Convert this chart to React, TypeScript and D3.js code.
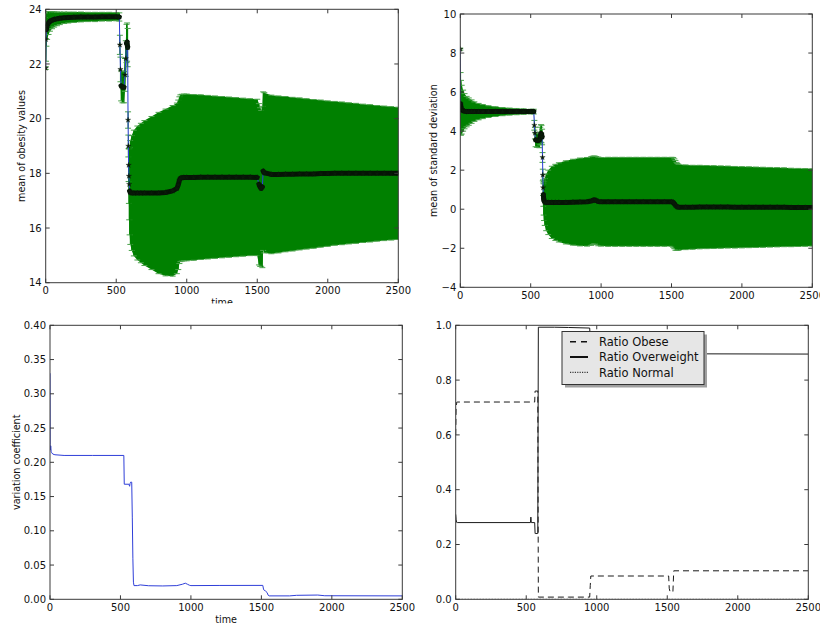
import React from "react";
import * as d3 from "d3";

// ---------- data ----------
const T_TOP = [0, 2, 5, 10, 20, 30, 45, 60, 80, 100, 130, 160, 200, 250, 300, 350, 400, 450, 500, 522, 526, 530, 535, 545, 555, 562, 568, 573, 577, 581, 584, 586, 588, 590, 592, 595, 600, 610, 625, 650, 675, 700, 750, 800, 850, 900, 930, 940, 948, 955, 965, 980, 1000, 1050, 1100, 1150, 1200, 1250, 1300, 1350, 1400, 1450, 1500, 1512, 1520, 1528, 1536, 1542, 1550, 1600, 1650, 1700, 1750, 1800, 1850, 1900, 1950, 2000, 2050, 2100, 2150, 2200, 2250, 2300, 2350, 2400, 2450, 2500];

const OBESITY_MEAN = [21.85, 22.9, 23.25, 23.4, 23.5, 23.56, 23.6, 23.63, 23.65, 23.67, 23.69, 23.7, 23.71, 23.72, 23.72, 23.72, 23.73, 23.73, 23.73, 23.72, 22.7, 21.8, 21.2, 21.15, 21.15, 21.6, 22.2, 22.75, 22.8, 22.6, 19.95, 19.0, 18.3, 17.9, 17.6, 17.35, 17.3, 17.28, 17.28, 17.28, 17.28, 17.28, 17.28, 17.28, 17.3, 17.36, 17.45, 17.58, 17.75, 17.82, 17.84, 17.85, 17.85, 17.85, 17.86, 17.86, 17.86, 17.86, 17.86, 17.86, 17.86, 17.86, 17.85, 17.6, 17.5, 17.45, 17.5, 18.08, 18.02, 17.96, 17.96, 17.97, 17.97, 17.98, 17.98, 17.98, 17.99, 17.99, 18.0, 18.0, 18.0, 18.0, 18.0, 18.0, 18.0, 18.0, 18.0, 18.0];

const OBESITY_ERR = [0.05, 0.8, 0.6, 0.5, 0.42, 0.36, 0.31, 0.28, 0.25, 0.23, 0.21, 0.2, 0.19, 0.18, 0.17, 0.17, 0.16, 0.16, 0.15, 0.15, 0.35, 0.45, 0.55, 0.57, 0.57, 0.6, 0.65, 0.7, 0.7, 0.7, 0.3, 0.4, 0.6, 1.0, 1.3, 1.6, 1.9, 2.1, 2.3, 2.45, 2.55, 2.65, 2.8, 2.95, 3.05, 3.12, 3.12, 3.1, 3.05, 3.05, 3.05, 3.05, 3.05, 3.03, 3.01, 2.99, 2.97, 2.95, 2.93, 2.91, 2.89, 2.87, 2.86, 2.95, 2.9, 2.85, 2.95, 2.9, 2.93, 2.9, 2.87, 2.84, 2.81, 2.78, 2.75, 2.72, 2.69, 2.66, 2.63, 2.61, 2.58, 2.56, 2.53, 2.51, 2.48, 2.46, 2.44, 2.42];

const STD_MEAN = [8.2, 5.4, 5.2, 5.1, 5.05, 5.02, 5.0, 5.0, 5.0, 5.0, 5.0, 5.0, 5.0, 5.0, 5.0, 5.0, 5.0, 5.0, 5.0, 5.0, 4.3, 3.9, 3.55, 3.52, 3.52, 3.55, 3.75, 3.88, 3.85, 3.7, 2.65, 1.75, 1.1, 0.75, 0.5, 0.42, 0.37, 0.35, 0.35, 0.35, 0.35, 0.35, 0.35, 0.36, 0.37, 0.38, 0.42, 0.45, 0.47, 0.47, 0.45, 0.4, 0.38, 0.38, 0.38, 0.38, 0.38, 0.38, 0.38, 0.38, 0.38, 0.38, 0.38, 0.35, 0.28, 0.2, 0.15, 0.12, 0.1, 0.1, 0.1, 0.11, 0.11, 0.11, 0.11, 0.11, 0.1, 0.1, 0.1, 0.1, 0.1, 0.1, 0.1, 0.1, 0.09, 0.09, 0.09, 0.09];

const STD_ERR = [0.05, 1.6, 1.4, 1.25, 1.05, 0.9, 0.78, 0.7, 0.6, 0.5, 0.42, 0.36, 0.3, 0.25, 0.21, 0.18, 0.16, 0.14, 0.12, 0.12, 0.25, 0.3, 0.35, 0.35, 0.35, 0.4, 0.45, 0.45, 0.45, 0.4, 0.25, 0.3, 0.4, 0.6, 0.8, 1.0, 1.2, 1.45, 1.65, 1.85, 1.95, 2.03, 2.13, 2.2, 2.25, 2.27, 2.27, 2.26, 2.25, 2.25, 2.25, 2.27, 2.27, 2.28, 2.28, 2.28, 2.28, 2.28, 2.28, 2.28, 2.28, 2.28, 2.28, 2.3, 2.3, 2.3, 2.25, 2.22, 2.2, 2.17, 2.15, 2.14, 2.13, 2.12, 2.11, 2.1, 2.09, 2.08, 2.07, 2.06, 2.05, 2.04, 2.03, 2.02, 2.01, 2.0, 1.99, 1.98];

const T_CV = [0, 1, 3, 5, 8, 12, 20, 35, 100, 300, 524, 527, 560, 565, 568, 572, 580, 584, 588, 592, 596, 620, 640, 700, 800, 900, 940, 960, 975, 990, 1000, 1200, 1510, 1516, 1530, 1540, 1548, 1555, 1700, 1750, 1900, 1950, 2500];
const CV = [0.33, 0.226, 0.218, 0.224, 0.216, 0.214, 0.212, 0.211, 0.21, 0.21, 0.21, 0.168, 0.168, 0.165, 0.169, 0.171, 0.171, 0.12, 0.06, 0.025, 0.02, 0.02, 0.021, 0.0198, 0.0195, 0.02, 0.022, 0.0235, 0.022, 0.0205, 0.02, 0.0202, 0.0203, 0.014, 0.012, 0.01, 0.006, 0.005, 0.005, 0.0058, 0.0062, 0.0052, 0.005];

const T_RATIO = [0, 3, 8, 12, 530, 533, 536, 560, 563, 568, 578, 582, 586, 590, 700, 800, 950, 954, 958, 1510, 1514, 1520, 1530, 1540, 1546, 2500];
const RATIO_OBESE = [0.6, 0.7, 0.72, 0.72, 0.72, 0.72, 0.72, 0.72, 0.76, 0.76, 0.76, 0.76, 0.008, 0.008, 0.008, 0.008, 0.008, 0.05, 0.085, 0.085, 0.04, 0.027, 0.027, 0.027, 0.104, 0.104];
const RATIO_OVERWEIGHT = [0.31, 0.29, 0.28, 0.28, 0.28, 0.3, 0.28, 0.28, 0.24, 0.24, 0.24, 0.24, 0.993, 0.993, 0.993, 0.992, 0.99, 0.95, 0.915, 0.915, 0.915, 0.915, 0.915, 0.915, 0.896, 0.895];
const RATIO_NORMAL = [0, 0, 0, 0, 0, 0, 0, 0, 0, 0, 0, 0, 0, 0, 0, 0, 0, 0, 0, 0, 0, 0, 0, 0, 0, 0];

const X_TICKS = [0, 500, 1000, 1500, 2000, 2500];
const Y_TICKS_OBESITY = [14, 16, 18, 20, 22, 24];
const Y_TICKS_STD = [-4, -2, 0, 2, 4, 6, 8, 10];
const Y_TICKS_CV = [0, 0.05, 0.1, 0.15, 0.2, 0.25, 0.3, 0.35, 0.4];
const Y_TICKS_RATIO = [0, 0.2, 0.4, 0.6, 0.8, 1.0];
const LEGEND_LABELS = ["Ratio Obese", "Ratio Overweight", "Ratio Normal"];
const LABEL_TIME = "time";
const LABEL_OBESITY = "mean of obesity values";
const LABEL_STD = "mean of standard deviation";
const LABEL_CV = "variation coefficient";

// ---------- styling ----------
const FONT = "'DejaVu Sans', sans-serif";
const TICK_FS = 10;
const LABEL_FS = 9.6;
const FRAME = "#3a3a3a";
const GREEN = "#008000";
const BLUE = "#2f3fd8";

type Box = { l: number; r: number; t: number; b: number };
type Scale = d3.ScaleLinear<number, number>;

function Frame({ box, x, y, xTicks, yTicks, yFmt }: { box: Box; x: Scale; y: Scale; xTicks: number[]; yTicks: number[]; yFmt: (v: number) => string }) {
  const tl = 4;
  return (
    <g fontFamily={FONT} fontSize={TICK_FS} fill="#111">
      <rect x={box.l} y={box.t} width={box.r - box.l} height={box.b - box.t} fill="none" stroke={FRAME} strokeWidth={1} />
      {xTicks.map((v) => (
        <g key={"x" + v}>
          <line x1={x(v)} x2={x(v)} y1={box.b} y2={box.b - tl} stroke={FRAME} />
          <line x1={x(v)} x2={x(v)} y1={box.t} y2={box.t + tl} stroke={FRAME} />
          <text x={x(v)} y={box.b + 11.3} textAnchor="middle">{String(v)}</text>
        </g>
      ))}
      {yTicks.map((v) => (
        <g key={"y" + v}>
          <line x1={box.l} x2={box.l + tl} y1={y(v)} y2={y(v)} stroke={FRAME} />
          <line x1={box.r} x2={box.r - tl} y1={y(v)} y2={y(v)} stroke={FRAME} />
          <text x={box.l - 4} y={y(v) + 3.6} textAnchor="end">{yFmt(v)}</text>
        </g>
      ))}
    </g>
  );
}

function YLabel({ x, y, text }: { x: number; y: number; text: string }) {
  return (
    <text transform={`translate(${x},${y}) rotate(-90)`} textAnchor="middle" fontFamily={FONT} fontSize={LABEL_FS} fill="#111">
      {text}
    </text>
  );
}

function ErrorbarSeries({ x, y, t, m, e, clip }: { x: Scale; y: Scale; t: number[]; m: number[]; e: number[]; clip: string }) {
  const idx = d3.range(t.length);
  const area = d3.area<number>().x((i) => x(t[i])).y0((i) => y(m[i] - e[i])).y1((i) => y(m[i] + e[i]));
  const line = d3.line<number>().x((i) => x(t[i])).y((i) => y(m[i]));
  let band = "";
  for (let i = 1; i < t.length; i++) {
    const y0 = y(m[i - 1]);
    const y1 = y(m[i]);
    if (Math.abs(y1 - y0) < 6) band += `M${x(t[i - 1])},${y0}L${x(t[i])},${y1}`;
  }
  const star = d3.symbol(d3.symbolStar, 9)() as string;
  return (
    <g clipPath={`url(#${clip})`}>
      <path d={area(idx) as string} fill={GREEN} />
      {idx.map((i) => (
        <g key={i} stroke={GREEN} strokeWidth={1}>
          <line x1={x(t[i])} x2={x(t[i])} y1={y(m[i] - e[i])} y2={y(m[i] + e[i])} />
          <line x1={x(t[i]) - 3} x2={x(t[i]) + 3} y1={y(m[i] - e[i])} y2={y(m[i] - e[i])} stroke="#4aa24a" />
          <line x1={x(t[i]) - 3} x2={x(t[i]) + 3} y1={y(m[i] + e[i])} y2={y(m[i] + e[i])} stroke="#4aa24a" />
        </g>
      ))}
      <path d={line(idx) as string} fill="none" stroke={BLUE} strokeWidth={1} />
      <path d={band} fill="none" stroke="#061406" strokeWidth={5} strokeLinecap="round" />
      {idx.map((i) => (
        <path key={"s" + i} d={star} transform={`translate(${x(t[i])},${y(m[i])})`} fill="#0a1a0a" stroke="#0a1a0a" strokeWidth={0.3} />
      ))}
    </g>
  );
}

function ClipDef({ id, box }: { id: string; box: Box }) {
  return (
    <clipPath id={id}>
      <rect x={box.l} y={box.t} width={box.r - box.l} height={box.b - box.t} />
    </clipPath>
  );
}

export default function App() {
  const boxTL: Box = { l: 45.7, r: 398.3, t: 9.3, b: 282.7 };
  const boxTR: Box = { l: 460.3, r: 812.3, t: 14, b: 287.3 };
  const boxBL: Box = { l: 50, r: 402.3, t: 325.3, b: 599.3 };
  const boxBR: Box = { l: 455.7, r: 808.3, t: 325.3, b: 599.3 };

  const xTL = d3.scaleLinear().domain([0, 2500]).range([boxTL.l, boxTL.r]);
  const yTL = d3.scaleLinear().domain([14, 24]).range([boxTL.b, boxTL.t]);
  const xTR = d3.scaleLinear().domain([0, 2500]).range([boxTR.l, boxTR.r]);
  const yTR = d3.scaleLinear().domain([-4, 10]).range([boxTR.b, boxTR.t]);
  const xBL = d3.scaleLinear().domain([0, 2500]).range([boxBL.l, boxBL.r]);
  const yBL = d3.scaleLinear().domain([0, 0.4]).range([boxBL.b, boxBL.t]);
  const xBR = d3.scaleLinear().domain([0, 2500]).range([boxBR.l, boxBR.r]);
  const yBR = d3.scaleLinear().domain([0, 1]).range([boxBR.b, boxBR.t]);

  const fmtInt = d3.format("d");
  const fmt2 = d3.format(".2f");
  const fmt1 = d3.format(".1f");

  const idxCV = d3.range(T_CV.length);
  const cvLine = d3.line<number>().x((i) => xBL(T_CV[i])).y((i) => yBL(CV[i]));
  const idxR = d3.range(T_RATIO.length);
  const rLine = (arr: number[]) => d3.line<number>().x((i) => xBR(T_RATIO[i])).y((i) => yBR(arr[i]))(idxR) as string;

  const legend = { x: 562, y: 331.5, w: 142, h: 53 };
  const legendStyles = [
    { dash: "6,5", w: 1.6 },
    { dash: "none", w: 2 },
    { dash: "1.2,1.2", w: 1 },
  ];

  return (
    <svg width={820} height={626} style={{ position: "absolute", left: 0, top: 0, background: "#fff" }}>
      <defs>
        <ClipDef id="cTL" box={boxTL} />
        <ClipDef id="cTR" box={boxTR} />
        <ClipDef id="cBL" box={boxBL} />
        <ClipDef id="cBR" box={boxBR} />
        <clipPath id="cTime">
          <rect x={0} y={284} width={410} height={19.5} />
        </clipPath>
      </defs>
      <rect x={0} y={0} width={820} height={626} fill="#fff" />

      {/* top-left */}
      <ErrorbarSeries x={xTL} y={yTL} t={T_TOP} m={OBESITY_MEAN} e={OBESITY_ERR} clip="cTL" />
      <Frame box={boxTL} x={xTL} y={yTL} xTicks={X_TICKS} yTicks={Y_TICKS_OBESITY} yFmt={fmtInt} />
      <YLabel x={25} y={(boxTL.t + boxTL.b) / 2} text={LABEL_OBESITY} />
      <text x={(boxTL.l + boxTL.r) / 2} y={boxTL.b + 23.5} textAnchor="middle" fontFamily={FONT} fontSize={LABEL_FS} fill="#111" clipPath="url(#cTime)">
        {LABEL_TIME}
      </text>

      {/* top-right */}
      <ErrorbarSeries x={xTR} y={yTR} t={T_TOP} m={STD_MEAN} e={STD_ERR} clip="cTR" />
      <Frame box={boxTR} x={xTR} y={yTR} xTicks={X_TICKS} yTicks={Y_TICKS_STD} yFmt={fmtInt} />
      <YLabel x={437} y={(boxTR.t + boxTR.b) / 2} text={LABEL_STD} />

      {/* bottom-left */}
      <g clipPath="url(#cBL)">
        <path d={cvLine(idxCV) as string} fill="none" stroke={BLUE} strokeWidth={1} />
      </g>
      <Frame box={boxBL} x={xBL} y={yBL} xTicks={X_TICKS} yTicks={Y_TICKS_CV} yFmt={fmt2} />
      <YLabel x={20} y={(boxBL.t + boxBL.b) / 2} text={LABEL_CV} />
      <text x={(boxBL.l + boxBL.r) / 2} y={boxBL.b + 23.5} textAnchor="middle" fontFamily={FONT} fontSize={LABEL_FS} fill="#111">
        {LABEL_TIME}
      </text>

      {/* bottom-right */}
      <g clipPath="url(#cBR)" fill="none" stroke="#1a1a1a" strokeWidth={1}>
        <path d={rLine(RATIO_OBESE)} strokeDasharray="6,4" />
        <path d={rLine(RATIO_OVERWEIGHT)} />
        <path d={rLine(RATIO_NORMAL)} strokeDasharray="1,2" />
      </g>
      <Frame box={boxBR} x={xBR} y={yBR} xTicks={X_TICKS} yTicks={Y_TICKS_RATIO} yFmt={fmt1} />
      <g>
        <rect x={legend.x + 3} y={legend.y + 3} width={legend.w} height={legend.h} fill="#a0a0a0" />
        <rect x={legend.x} y={legend.y} width={legend.w} height={legend.h} fill="#e6e6e6" stroke="#333" strokeWidth={1} />
        {LEGEND_LABELS.map((lab, i) => {
          const cy = legend.y + 10.2 + i * 15.3;
          const st = legendStyles[i];
          return (
            <g key={lab}>
              <line x1={legend.x + 8} x2={legend.x + 26} y1={cy} y2={cy} stroke="#111" strokeWidth={st.w} strokeDasharray={st.dash} />
              <text x={legend.x + 37} y={cy + 4.2} fontFamily={FONT} fontSize={11.5} fill="#111">
                {lab}
              </text>
            </g>
          );
        })}
      </g>
    </svg>
  );
}
